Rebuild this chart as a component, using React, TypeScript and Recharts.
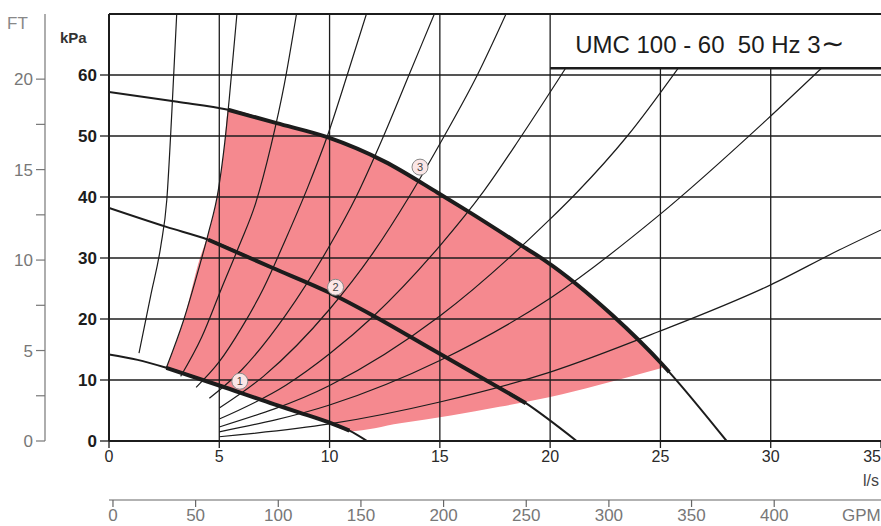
import {
  Area,
  ComposedChart,
  Line,
  ReferenceArea,
  ReferenceDot,
  ReferenceLine,
  XAxis,
  YAxis,
} from 'recharts';

// pump curves, flow in l/s, head in kPa
const pump1 = [
  [0, 14.2], [1.3, 13.3], [2.6, 12], [5, 9.1], [7.5, 6], [8.6, 4.7], [10, 3], [10.9, 1.7], [11.7, 0],
];
const pump2 = [
  [0, 38.2], [2.6, 35.1], [4.5, 33], [7.4, 28.4], [10, 24.3], [11.9, 20.7], [14.7, 14.9], [16.3, 11.6],
  [18.9, 6.2], [21.2, 0],
];
const pump3 = [
  [0, 57.2], [3.1, 55.6], [5.4, 54.3], [7.6, 52.1], [9.9, 49.8], [12.5, 45.8], [14.9, 40.7], [16.3, 37.6],
  [18.9, 31.6], [19.8, 29.5], [22.8, 20.7], [25.1, 12.5], [25.4, 11.3], [28, 0],
];

// thin system curves, left (steep) to right (flat)
const sysA = [[1.36, 14.4], [1.9, 24], [2.35, 32], [2.62, 39.5], [2.85, 54], [3.07, 70]];
const sysB = [[2.6, 12], [3.4, 20], [4.05, 28], [4.5, 34], [4.95, 41], [5.25, 49], [5.45, 56], [5.8, 70]];
const sysC = [[3.25, 10.6], [4.2, 17], [5.1, 25], [5.9, 32], [6.65, 39], [7.35, 48.5], [7.95, 58.5], [8.5, 70]];
const sysD = [[3.95, 8.8], [5, 13], [6, 18.5], [7, 25], [8, 33], [9, 41.5], [9.9, 50], [10.8, 60], [11.67, 70]];
const sysE = [[4.55, 7], [6, 11.6], [8, 20.6], [10, 32], [11.2, 40], [12.45, 50], [13.6, 60], [14.75, 70]];
const sysF = [[5, 5.4], [7, 10.6], [10, 21.6], [12, 31], [13.6, 40], [15.2, 50], [16.7, 60], [18, 70]];
const sysG = [[5, 3.6], [8, 9.1], [10, 14.3], [12, 20.5], [15, 32], [17, 41], [18.7, 50], [20.7, 61.1]];
const sysH = [[5, 2.3], [10, 9.1], [15, 20.5], [19.95, 36.2], [21.2, 40.7], [23.5, 50], [25.8, 61.1]];
const sysI = [[5, 1.5], [10, 5.9], [15, 13.2], [20, 23.4], [24.9, 36.9], [29.8, 52.6], [32.3, 61.1]];
const sysJ = [[5, 0.7], [10, 2.8], [15, 6.4], [20, 11.3], [24.9, 17.9], [30, 25.6], [33.1, 31.3], [35, 34.6]];
const systemCurves = [sysA, sysB, sysC, sysD, sysE, sysF, sysG, sysH, sysI, sysJ];

// pink operating field
const bandQ = [2.6, 3.4, 4.1, 4.5, 4.95, 5.25, 5.4, 7.6, 9.9, 10.9, 13.2, 15.5, 17.7, 20, 22.2, 25.1];
const bandLow = [12, 11.1, 10.3, 9.9, 9.2, 8.9, 8.7, 5.9, 3.1, 1.6, 2.9, 4.2, 5.6, 7.2, 9.2, 12];
const bandHigh = [12, 20, 29.7, 34, 41, 49, 54.3, 52.1, 49.8, 48.3, 44.4, 39.4, 34.3, 29, 22.6, 12.5];

const lpsTicks = [0, 5, 10, 15, 20, 25, 30, 35];
const kpaTicks = [0, 10, 20, 30, 40, 50, 60];
const ftTicks = [0, 2.5, 5, 7.5, 10, 12.5, 15, 17.5, 20];
const gpmTicks = [0, 50, 100, 150, 200, 250, 300, 350, 400];

const toPts = (arr: number[][]) => arr.map(([q, h]) => ({ q, h }));
const band = bandQ.map((q, i) => ({ q, band: [bandLow[i], bandHigh[i]] }));
const gpmAnchor = gpmTicks.map((g) => ({ g, h: 0 }));

const FONT = '"Liberation Sans", Arial, Helvetica, sans-serif';
const INK = '#1c1c1c';
const BOX_Y = 61.1;

// ids chosen so that the l/s and kPa axes sit next to the plot
const ax = { xAxisId: 'x1', yAxisId: 'y1' };

const LpsTick = ({ x, y, payload }: any) => {
  const last = payload.value === lpsTicks[lpsTicks.length - 1];
  return (
    <text x={last ? x : x} y={y} dy="0.71em" textAnchor={last ? 'end' : 'middle'} fontSize={16} fill="#2a2a2a">
      {payload.value}
    </text>
  );
};

export default function App() {
  return (
    <div style={{ width: 881, height: 526, background: '#fff' }}>
      <style>{'body{margin:0}'}</style>
      <ComposedChart
        width={881}
        height={526}
        margin={{ top: 14, right: 0, left: 0, bottom: 0 }}
        style={{ fontFamily: FONT }}
      >
        <XAxis
          xAxisId="x1"
          dataKey="q"
          type="number"
          domain={[0, 35]}
          ticks={lpsTicks}
          interval={0}
          height={59}
          axisLine={{ stroke: INK, strokeWidth: 2 }}
          tickLine={{ stroke: INK, strokeWidth: 1.3 }}
          tickSize={7}
          tickMargin={3}
          tick={<LpsTick />}
          allowDataOverflow
          label={{
            content: ({ viewBox }: any) => (
              <text x={viewBox.x + viewBox.width - 2} y={viewBox.y + 45} textAnchor="end" fontSize={16} fill="#444">
                l/s
              </text>
            ),
          }}
        />
        <XAxis
          xAxisId="x2"
          dataKey="g"
          type="number"
          domain={[-2.4, 464.6]}
          ticks={gpmTicks}
          interval={0}
          height={26}
          axisLine={{ stroke: '#666', strokeWidth: 1.2 }}
          tickLine={{ stroke: '#666', strokeWidth: 1.2 }}
          tickSize={7}
          tickMargin={2}
          tick={{ fill: '#777', fontSize: 17 }}
          allowDataOverflow
          label={{
            content: ({ viewBox }: any) => (
              <text x={842} y={viewBox.y + 21} fontSize={17} fill="#777">
                GPM
              </text>
            ),
          }}
        />
        <YAxis
          yAxisId="y1"
          type="number"
          domain={[0, 70]}
          ticks={kpaTicks}
          interval={0}
          width={64}
          axisLine={{ stroke: INK, strokeWidth: 2 }}
          tickLine={{ stroke: INK, strokeWidth: 1.3 }}
          tickSize={9}
          tickMargin={3}
          tick={{ fill: INK, fontSize: 17, fontWeight: 'bold' }}
          allowDataOverflow
          label={{
            content: ({ viewBox }: any) => (
              <text x={viewBox.x + 15} y={viewBox.y + 29} fontSize={15} fontWeight="bold" fill="#333">
                kPa
              </text>
            ),
          }}
        />
        <YAxis
          yAxisId="y2"
          type="number"
          domain={[0, 23.6]}
          ticks={ftTicks}
          interval={0}
          width={45}
          axisLine={{ stroke: '#777', strokeWidth: 1.2 }}
          tickLine={{ stroke: '#777', strokeWidth: 1.2 }}
          tickSize={9}
          tickMargin={3}
          tick={{ fill: '#777', fontSize: 17 }}
          tickFormatter={(v: number) => (v % 5 === 0 ? String(v) : '')}
          allowDataOverflow
          label={{
            content: ({ viewBox }: any) => (
              <text x={viewBox.x + 7} y={viewBox.y + 15} fontSize={17} fill="#888">
                FT
              </text>
            ),
          }}
        />

        <Line
          xAxisId="x2"
          yAxisId="y1"
          data={gpmAnchor}
          dataKey="h"
          stroke="none"
          dot={false}
          activeDot={false}
          isAnimationActive={false}
        />

        <Area
          {...ax}
          data={band}
          dataKey="band"
          type="monotone"
          fill="#f5898f"
          fillOpacity={1}
          stroke="none"
          isAnimationActive={false}
          dot={false}
          activeDot={false}
        />

        {lpsTicks.slice(1, -1).map((t) => (
          <ReferenceLine
            key={'v' + t}
            {...ax}
            segment={[{ x: t, y: 0 }, { x: t, y: t > 20 ? BOX_Y : 70 }]}
            stroke={INK}
            strokeWidth={1.3}
          />
        ))}
        {kpaTicks.slice(1).map((t) => (
          <ReferenceLine key={'h' + t} {...ax} y={t} stroke={INK} strokeWidth={1.3} />
        ))}
        <ReferenceLine {...ax} y={70} stroke={INK} strokeWidth={2.2} />
        <ReferenceLine
          {...ax}
          segment={[{ x: 20, y: BOX_Y }, { x: 35, y: BOX_Y }]}
          stroke={INK}
          strokeWidth={2.5}
        />
        <ReferenceArea
          {...ax}
          x1={20}
          x2={35}
          y1={BOX_Y}
          y2={70}
          fill="#fff"
          fillOpacity={0}
          stroke="none"
          label={{
            content: ({ viewBox }: any) => (
              <text
                x={viewBox.x + 25}
                y={viewBox.y + 39}
                fontSize={24}
                fill={INK}
                style={{ whiteSpace: 'pre' }}
              >
                {'UMC 100 - 60  50 Hz 3'}
                <tspan fontSize={28}>∼</tspan>
              </text>
            ),
          }}
        />

        {systemCurves.map((c, i) => (
          <Line
            key={'s' + i}
            {...ax}
            data={toPts(c)}
            dataKey="h"
            type="monotone"
            stroke={INK}
            strokeWidth={1.2}
            dot={false}
            activeDot={false}
            isAnimationActive={false}
          />
        ))}

        {[pump1, pump2, pump3].map((c, i) => (
          <Line
            key={'p' + i}
            {...ax}
            data={toPts(c)}
            dataKey="h"
            type="monotone"
            stroke={INK}
            strokeWidth={2}
            dot={false}
            activeDot={false}
            isAnimationActive={false}
          />
        ))}
        {[
          pump1.filter(([q]) => q >= 2.6 && q <= 10.9),
          pump2.filter(([q]) => q >= 4.5 && q <= 18.9),
          pump3.filter(([q]) => q >= 5.4 && q <= 25.4),
        ].map((c, i) => (
          <Line
            key={'t' + i}
            {...ax}
            data={toPts(c)}
            dataKey="h"
            type="monotone"
            stroke={INK}
            strokeWidth={4}
            dot={false}
            activeDot={false}
            isAnimationActive={false}
          />
        ))}

        {[
          { q: 5.93, h: 9.8, n: '1' },
          { q: 10.27, h: 25.2, n: '2' },
          { q: 14.1, h: 44.9, n: '3' },
        ].map((m) => (
          <ReferenceDot
            key={m.n}
            {...ax}
            x={m.q}
            y={m.h}
            r={8}
            fill="#fbe6e6"
            stroke="#888"
            strokeWidth={1}
            label={{ value: m.n, position: 'center', fontSize: 11, fill: '#444' }}
          />
        ))}
      </ComposedChart>
    </div>
  );
}
